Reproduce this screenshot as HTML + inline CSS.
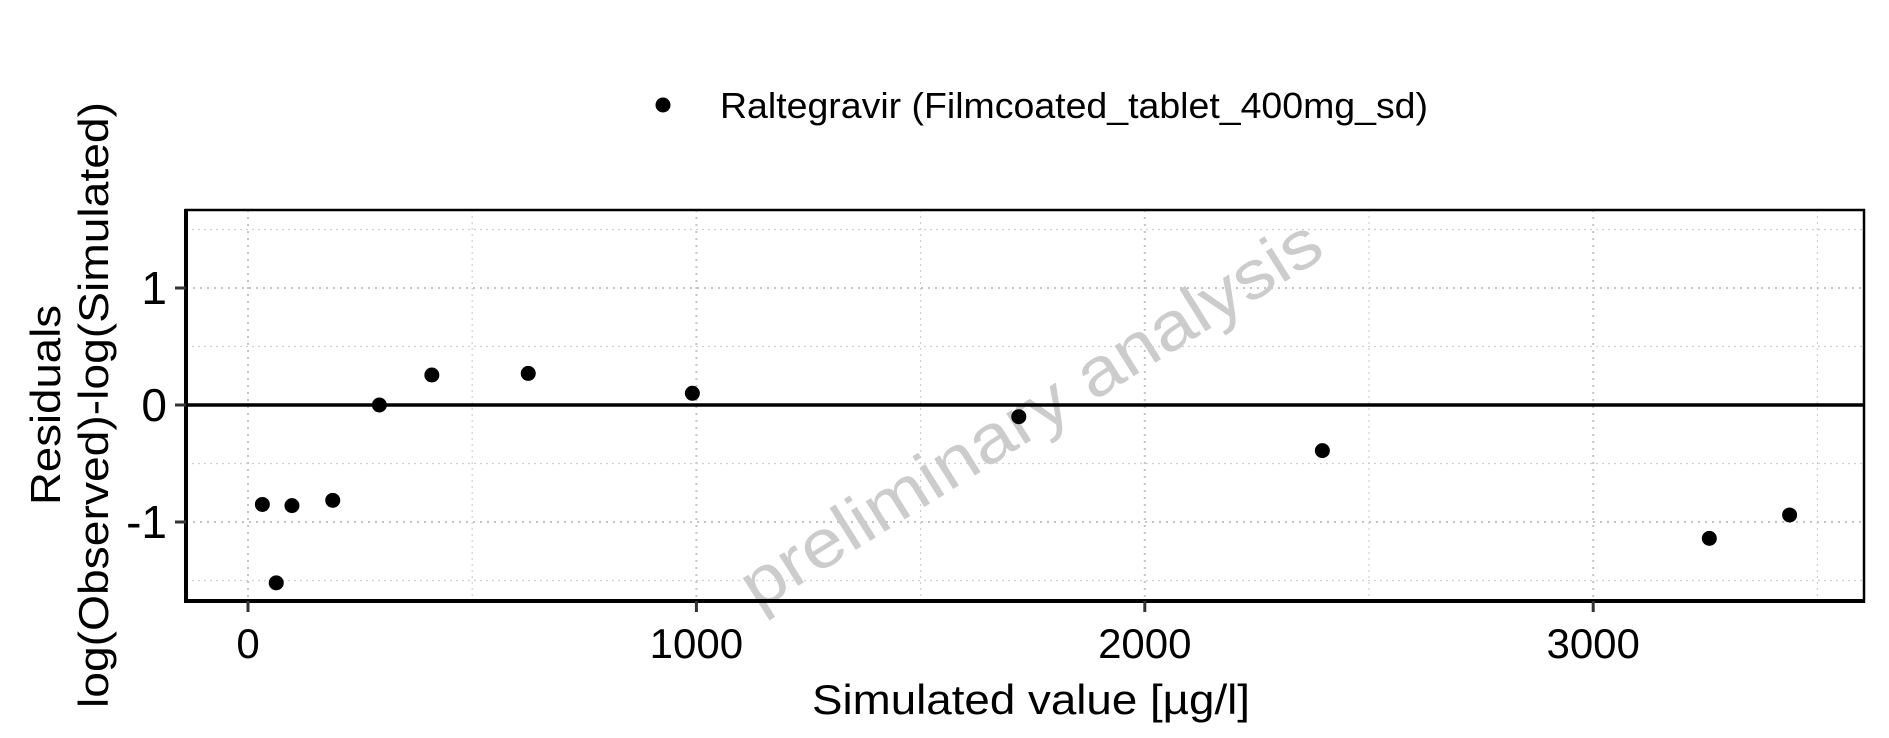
<!DOCTYPE html>
<html><head><meta charset="utf-8"><style>
html,body{margin:0;padding:0;background:#fff;}
svg{display:block;font-family:"Liberation Sans",Arial,sans-serif;}
</style></head><body>
<svg id="chart" width="1889" height="738" viewBox="0 0 1889 738" xmlns="http://www.w3.org/2000/svg">
<rect width="1889" height="738" fill="#fff"/>
<g id="grid"></g>
<text x="1033" y="418" font-size="68" fill="#cccccc" text-anchor="middle" dominant-baseline="middle" transform="rotate(-32 1033 418)" textLength="672" lengthAdjust="spacingAndGlyphs">preliminary analysis</text>
<g id="marks"></g>
<g id="axes"></g>
<g>
<circle cx="663" cy="105" r="7.5" fill="#000"/>
<text x="720" y="118" font-size="36" fill="#000" textLength="708" lengthAdjust="spacingAndGlyphs">Raltegravir (Filmcoated_tablet_400mg_sd)</text>
</g>
<text x="1031" y="714" font-size="42" text-anchor="middle" textLength="438" lengthAdjust="spacingAndGlyphs">Simulated value [µg/l]</text>
<g transform="translate(60,405) rotate(-90)">
<text x="0" y="0" font-size="42" text-anchor="middle" textLength="200" lengthAdjust="spacingAndGlyphs">Residuals</text>
<text x="0" y="48" font-size="42" text-anchor="middle" textLength="606" lengthAdjust="spacingAndGlyphs">log(Observed)-log(Simulated)</text>
</g>
</svg>
<script>
const simulated = [32, 63, 98, 189, 293, 410, 625, 991, 1719, 2396, 3259, 3438];
const residuals = [-0.85, -1.52, -0.86, -0.815, 0.0, 0.256, 0.27, 0.10, -0.10, -0.39, -1.14, -0.94];
const xTicks = [0, 1000, 2000, 3000];
const xTickLabels = ["0", "1000", "2000", "3000"];
const yTicks = [1, 0, -1];
const yTickLabels = ["1", "0", "-1"];

const L = 186, R = 1864, T = 210, B = 601;
const X0 = 248, XPER = 0.4484;
const Y0 = 405, YPER = 117;
function xs(v){ return X0 + v * XPER; }
function ys(v){ return Y0 - v * YPER; }
const NS = "http://www.w3.org/2000/svg";
function mk(tag, attrs, parent){
  const e = document.createElementNS(NS, tag);
  for (const k in attrs) e.setAttribute(k, attrs[k]);
  parent.appendChild(e);
  return e;
}
const grid = document.getElementById('grid');
const xMinor = [500, 1500, 2500, 3500];
xMinor.forEach(v => {
  const l = mk('line', {x1: xs(v), x2: xs(v), y1: T, y2: B, stroke: '#d0d0d0', 'stroke-width': 1.2, 'stroke-dasharray': '2,4'}, grid);
  
  
});
xTicks.forEach(v => {
  const l = mk('line', {x1: xs(v), x2: xs(v), y1: T, y2: B, stroke: '#c4c4c4', 'stroke-width': 2, 'stroke-dasharray': '2,5'}, grid);
  
  
});
[1.5, 0.5, -0.5, -1.5].forEach(v => {
  const l = mk('line', {x1: L, x2: R, y1: ys(v), y2: ys(v), stroke: '#d0d0d0', 'stroke-width': 1.2, 'stroke-dasharray': '2,4'}, grid);
  
  
});
yTicks.forEach(v => {
  const l = mk('line', {x1: L, x2: R, y1: ys(v), y2: ys(v), stroke: '#c4c4c4', 'stroke-width': 2, 'stroke-dasharray': '2,5'}, grid);
  
  
});
const axes = document.getElementById('axes');
const zl = mk('line', {x1: L, x2: R, y1: ys(0), y2: ys(0), stroke: '#000', 'stroke-width': 3.5}, axes);


const border = mk('rect', {x: L, y: T, width: R - L, height: B - T, fill: 'none', stroke: '#000', 'stroke-width': 2.5}, axes);


const la = mk('line', {x1: L, x2: L, y1: T - 1, y2: B + 2, stroke: '#000', 'stroke-width': 4}, axes);


const ba = mk('line', {x1: L - 2, x2: R + 1, y1: B, y2: B, stroke: '#000', 'stroke-width': 4}, axes);


xTicks.forEach((v, i) => {
  const t = mk('line', {x1: xs(v), x2: xs(v), y1: B, y2: B + 11, stroke: '#333', 'stroke-width': 3}, axes);
  
  
  const tx = mk('text', {x: xs(v), y: 658, 'font-size': 42, 'text-anchor': 'middle', fill: '#000'}, axes);
  tx.textContent = xTickLabels[i];
  
  
});
yTicks.forEach((v, i) => {
  const t = mk('line', {x1: L - 11, x2: L, y1: ys(v), y2: ys(v), stroke: '#333', 'stroke-width': 3}, axes);
  
  
  const tx = mk('text', {x: 167, y: ys(v) + 16, 'font-size': 46, 'text-anchor': 'end', fill: '#000'}, axes);
  tx.textContent = yTickLabels[i];
  
  
});
const marks = document.getElementById('marks');
simulated.forEach((v, i) => {
  const c = mk('circle', {cx: xs(v), cy: ys(residuals[i]), r: 7.5, fill: '#000'}, marks);
  
  
});
</script>
</body></html>
